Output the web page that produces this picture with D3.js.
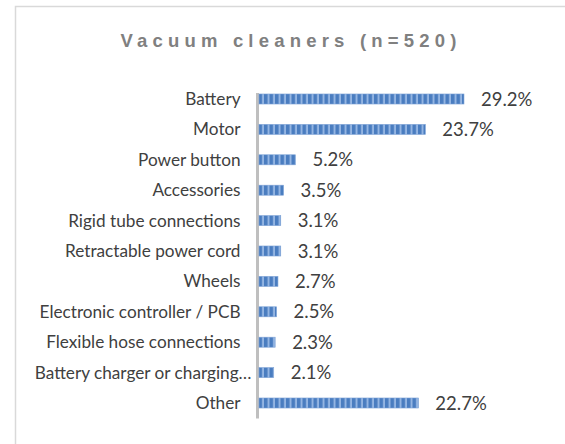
<!DOCTYPE html>
<html>
<head>
<meta charset="utf-8">
<script src="https://cdn.jsdelivr.net/npm/d3@7"></script>
<style>
  body { margin: 0; background: #fff; }
</style>
</head>
<body>
<div id="chart"></div>
<script>
// categories and shares (%)
var categories = ["Battery", "Motor", "Power button", "Accessories", "Rigid tube connections",
  "Retractable power cord", "Wheels", "Electronic controller / PCB", "Flexible hose connections",
  "Battery charger or charging\u2026", "Other"];
var shares = [29.2, 23.7, 5.2, 3.5, 3.1, 3.1, 2.7, 2.5, 2.3, 2.1, 22.7];
var title = "Vacuum cleaners (n=520)";

var W = 565, H = 444;
var svg = d3.select("#chart").append("svg")
    .attr("width", W).attr("height", H);

// pattern fill: blue with light vertical stripes
var defs = svg.append("defs");
var pat = defs.append("pattern")
    .attr("id", "stripes")
    .attr("patternUnits", "userSpaceOnUse")
    .attr("width", 5.5).attr("height", 20);
pat.append("rect").attr("width", 5.5).attr("height", 20).attr("fill", "#4a7dc0");
pat.append("rect").attr("x", 3.5).attr("width", 2).attr("height", 20).attr("fill", "#94b5e2");

// outer chart frame (runs off the right and bottom edges)
svg.append("rect")
    .attr("x", 15.5).attr("y", 6.5)
    .attr("width", 600).attr("height", 500)
    .attr("fill", "none")
    .attr("stroke", "#d9d9d9")
    .attr("stroke-width", 1.5);

svg.append("text")
    .attr("x", 291).attr("y", 46.5)
    .attr("text-anchor", "middle")
    .style("font-family", "'Liberation Sans', Arial, sans-serif")
    .style("font-weight", "bold")
    .style("font-size", "18.5px")
    .style("letter-spacing", "5.2px")
    .style("fill", "#808080")
    .text(title);

var x = d3.scaleLinear().domain([0, 30]).range([259, 259 + 210.6]);
var y = d3.scaleBand().domain(categories).range([83.8, 418.2]).paddingInner(0.67).paddingOuter(0.335);

// category axis
var yAxis = d3.axisLeft(y).tickSize(0).tickPadding(17);
var ga = svg.append("g").attr("transform", "translate(257.5,0)").call(yAxis);
ga.select(".domain").attr("stroke", "#bfbfbf").attr("stroke-width", 3)
    .attr("d", "M0," + 93 + "V" + 418.5);
ga.selectAll("text")
    .style("font-family", "Lato, sans-serif")
    .style("font-size", "17.2px")
    .style("fill", "#404040")
    .attr("dy", "0.35em")
    .attr("dx", function(d) { return /\u2026$/.test(d) ? 11 : 0; });

var rows = categories.map(function(c, i) { return { cat: c, v: shares[i] }; });

svg.selectAll(".bar").data(rows).enter().append("rect")
    .attr("class", "bar")
    .attr("x", x(0))
    .attr("y", function(d) { return y(d.cat); })
    .attr("width", function(d) { return x(d.v) - x(0); })
    .attr("height", y.bandwidth())
    .attr("fill", "url(#stripes)")
    .attr("stroke", "#7ea3d6")
    .attr("stroke-width", 0.6);

svg.selectAll(".val").data(rows).enter().append("text")
    .attr("class", "val")
    .attr("x", function(d) { return x(d.v) + 17; })
    .attr("y", function(d) { return y(d.cat) + y.bandwidth() / 2; })
    .attr("dy", "0.36em")
    .style("font-family", "Lato, sans-serif")
    .style("font-size", "18.5px")
    .style("fill", "#404040")
    .text(function(d) { return d.v.toFixed(1) + "%"; });
</script>
</body>
</html>
